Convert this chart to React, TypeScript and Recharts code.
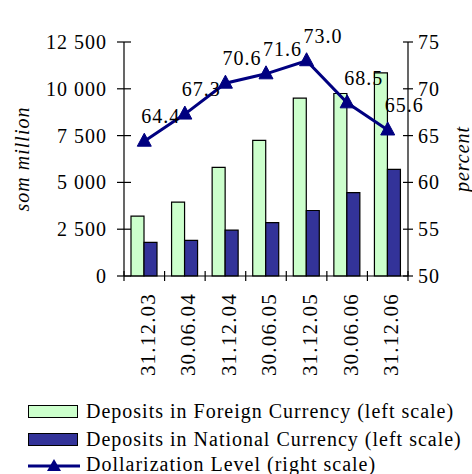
import React from 'react';
import { ComposedChart, Bar, Line, XAxis, YAxis } from 'recharts';

const categories = ['31.12.03', '30.06.04', '31.12.04', '30.06.05', '31.12.05', '30.06.06', '31.12.06'];
const foreignDeposits = [3200, 3950, 5800, 7250, 9500, 9750, 10850];
const nationalDeposits = [1800, 1900, 2450, 2850, 3500, 4450, 5700];
const dollarization = [64.4, 67.3, 70.6, 71.6, 73.0, 68.5, 65.6];
const leftTicks = [0, 2500, 5000, 7500, 10000, 12500];
const rightTicks = [50, 55, 60, 65, 70, 75];

const FONT = '"Liberation Serif", "Times New Roman", serif';
const NAVY = '#000080';
const W = 472;
const H = 474;
const PLOT_LEFT = 124;
const PLOT_RIGHT = 408;
const PLOT_TOP = 42;
const PLOT_BOTTOM = 276;
const BAND = (PLOT_RIGHT - PLOT_LEFT) / categories.length;

const data = categories.map((name, i) => ({
  name,
  foreign: foreignDeposits[i],
  national: nationalDeposits[i],
  level: dollarization[i]
}));

const fmtThousands = (v: number) => String(v).replace(/\B(?=(\d{3})+(?!\d))/g, ' ');

const LeftTick = (props: any) => {
  const { x, y, payload } = props;
  return (
    <g>
      <line x1={x - 7} x2={x + 7} y1={y} y2={y} stroke="#000" strokeWidth={1.2} />
      <text x={x - 17} y={y} dy="0.35em" textAnchor="end" fontFamily={FONT} fontSize={20} letterSpacing={1} fill="#000">
        {fmtThousands(payload.value)}
      </text>
    </g>
  );
};

const RightTick = (props: any) => {
  const { x, y, payload } = props;
  return (
    <g>
      <line x1={x - 5} x2={x + 5} y1={y} y2={y} stroke="#000" strokeWidth={1.2} />
      <text x={x + 10} y={y} dy="0.35em" textAnchor="start" fontFamily={FONT} fontSize={20} letterSpacing={1} fill="#000">
        {payload.value}
      </text>
    </g>
  );
};

// category ticks sit on band edges, labels at band centres
const BottomTick = (props: any) => {
  const { x, y, payload, index } = props;
  const last = index === categories.length - 1;
  return (
    <g>
      <line x1={x - BAND / 2} x2={x - BAND / 2} y1={y - 5} y2={y + 5} stroke="#000" strokeWidth={1.2} />
      {last && <line x1={x + BAND / 2} x2={x + BAND / 2} y1={y - 5} y2={y + 5} stroke="#000" strokeWidth={1.2} />}
      <text
        x={0}
        y={0}
        dy="0.35em"
        textAnchor="end"
        transform={`translate(${x + 3},${y + 17}) rotate(-90)`}
        fontFamily={FONT}
        fontSize={21}
        letterSpacing={1.2}
        fill="#000"
      >
        {payload.value}
      </text>
    </g>
  );
};

const Triangle = (props: any) => {
  const { cx, cy, index } = props;
  return (
    <path
      key={`tri-${index}`}
      d={`M${cx},${cy - 8} L${cx - 7},${cy + 5} L${cx + 7},${cy + 5} Z`}
      fill={NAVY}
      stroke={NAVY}
    />
  );
};

const PointLabel = (props: any) => {
  const { x, y, value, index } = props;
  return (
    <text key={`lbl-${index}`} x={x - 3} y={y - 18} textAnchor="start" fontFamily={FONT} fontSize={20} letterSpacing={1} fill="#000">
      {Number(value).toFixed(1)}
    </text>
  );
};

const AxisTitle = (text: string, cx: number) => (props: any) => {
  const { viewBox } = props;
  const cy = viewBox.y + viewBox.height / 2;
  return (
    <text
      x={0}
      y={0}
      textAnchor="middle"
      dy="0.35em"
      transform={`translate(${cx},${cy}) rotate(-90)`}
      fontFamily={FONT}
      fontStyle="italic"
      fontSize={20}
      letterSpacing={1}
      fill="#000"
    >
      {text}
    </text>
  );
};

const legendRow: React.CSSProperties = {
  position: 'absolute',
  left: 28,
  display: 'flex',
  alignItems: 'center',
  fontFamily: FONT,
  fontSize: 20,
  letterSpacing: 1,
  color: '#000',
  whiteSpace: 'nowrap'
};

export default function App() {
  return (
    <div style={{ position: 'absolute', left: 0, top: 0, width: W, height: H, background: '#fff' }}>
      <ComposedChart
        width={W}
        height={H}
        data={data}
        barGap={0}
        margin={{ top: PLOT_TOP, right: 0, bottom: 0, left: 0 }}
      >
        <XAxis
          dataKey="name"
          interval={0}
          height={H - PLOT_BOTTOM}
          tickSize={0}
          tickMargin={0}
          tickLine={false}
          axisLine={{ stroke: '#000', strokeWidth: 1.2 }}
          tick={<BottomTick />}
        />
        <YAxis
          yAxisId="left"
          orientation="left"
          width={PLOT_LEFT}
          domain={[0, 12500]}
          ticks={leftTicks}
          tickSize={0}
          tickMargin={0}
          tickLine={false}
          axisLine={{ stroke: '#000', strokeWidth: 1.2 }}
          tick={<LeftTick />}
          label={{ content: AxisTitle('som million', 22) }}
        />
        <YAxis
          yAxisId="right"
          orientation="right"
          width={W - PLOT_RIGHT}
          domain={[50, 75]}
          ticks={rightTicks}
          tickSize={0}
          tickMargin={0}
          tickLine={false}
          axisLine={{ stroke: '#000', strokeWidth: 1.2 }}
          tick={<RightTick />}
          label={{ content: AxisTitle('percent', PLOT_RIGHT + 54) }}
        />
        <Bar yAxisId="left" dataKey="foreign" fill="#CCFFCC" stroke="#000" strokeWidth={1.2} barSize={13} isAnimationActive={false} />
        <Bar yAxisId="left" dataKey="national" fill="#333399" stroke="#000" strokeWidth={1.2} barSize={13} isAnimationActive={false} />
        <Line
          yAxisId="right"
          type="linear"
          dataKey="level"
          stroke={NAVY}
          strokeWidth={3}
          dot={Triangle}
          activeDot={false}
          label={PointLabel}
          isAnimationActive={false}
        />
      </ComposedChart>

      <div style={{ ...legendRow, top: 400 }}>
        <span style={{ display: 'inline-block', width: 48, height: 11, background: '#CCFFCC', border: '1.5px solid #000', marginRight: 8 }} />
        Deposits in Foreign Currency (left scale)
      </div>
      <div style={{ ...legendRow, top: 428 }}>
        <span style={{ display: 'inline-block', width: 48, height: 11, background: '#333399', border: '1.5px solid #000', marginRight: 8 }} />
        Deposits in National Currency (left scale)
      </div>
      <div style={{ ...legendRow, top: 453 }}>
        <svg width={52} height={14} style={{ marginRight: 6 }}>
          <line x1={0} x2={52} y1={8} y2={8} stroke={NAVY} strokeWidth={3} />
          <path d="M26,1 L19,13 L33,13 Z" fill={NAVY} />
        </svg>
        Dollarization Level (right scale)
      </div>
    </div>
  );
}
